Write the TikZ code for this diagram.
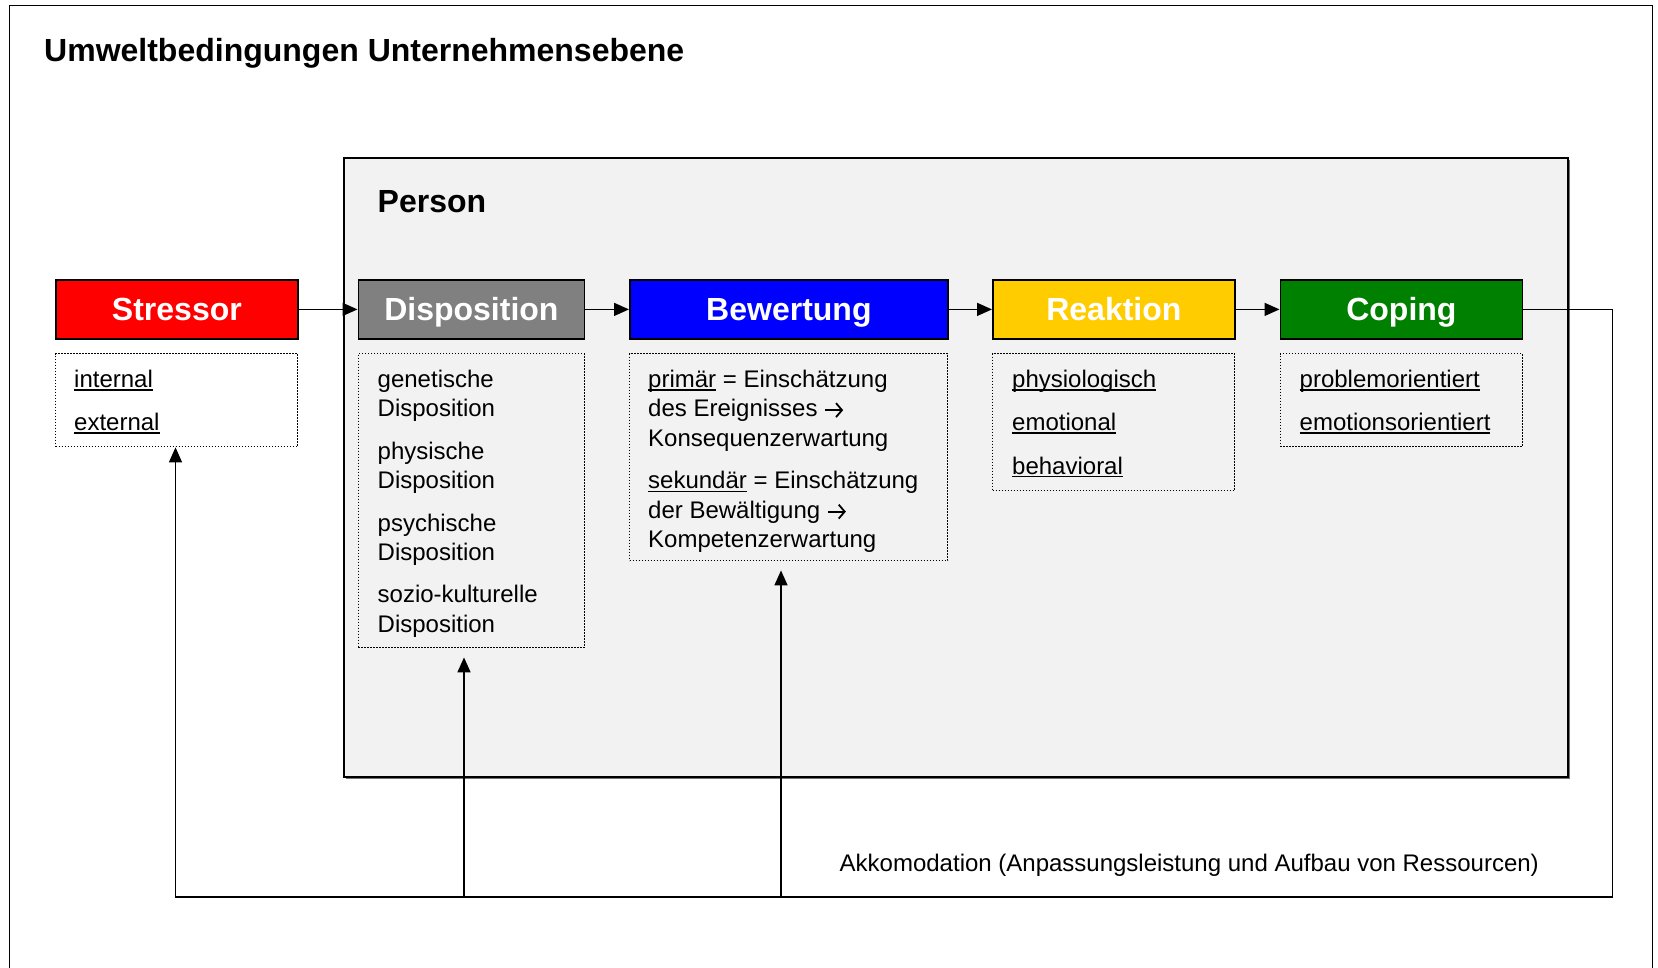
\documentclass[tikz,border=0pt]{standalone}
\usepackage{fontspec}
\setmainfont{Liberation Sans}
\usetikzlibrary{arrows.meta, shadows}

\definecolor{stressred}{HTML}{FF0000}
\definecolor{dispgray}{HTML}{808080}
\definecolor{bewblue}{HTML}{0000FF}
\definecolor{reakyellow}{HTML}{FFCC00}
\definecolor{copgreen}{HTML}{008000}
\definecolor{persongray}{HTML}{F2F2F2}

\newlength{\uwordlen}
\newcommand{\uword}[1]{\settowidth{\uwordlen}{#1}\rlap{\rule[-3.4pt]{\uwordlen}{1.6pt}}#1}
\newcommand{\folgt}{\tikz[baseline=0pt]\draw[line width=1.8pt, -{Straight Barb[length=6pt, width=14pt]}] (0pt,6.7pt) -- (18pt,6.7pt);}

\begin{document}
\begin{tikzpicture}[x=1pt, y=-1pt,
    frame/.style={line width=1.8pt},
    title/.style={font=\fontsize{32}{38}\selectfont\bfseries, inner sep=0pt},
    person/.style={draw, line width=1.6pt, fill=persongray, anchor=north west, inner sep=0pt,
        drop shadow={shadow xshift=2.5pt, shadow yshift=-2.5pt, fill=black!55, opacity=1}},
    head/.style={draw, line width=1.8pt, minimum height=59pt, anchor=north west, inner sep=0pt,
        text height=23pt, text depth=0pt, text=white, font=\fontsize{32}{38}\selectfont\bfseries},
    detail/.style={draw, line width=1.4pt, dash pattern=on 1.4pt off 1.6pt, anchor=north west, inner sep=0pt},
    item/.style={anchor=north west, align=left, inner sep=0pt, font=\fontsize{24}{29.6}\selectfont},
    line/.style={-{Triangle[length=15pt, width=13pt]}, line width=1.5pt}]
\useasboundingbox (0,0) rectangle (1658,968);
\draw[frame] (9.5,968) -- (9.5,5.5) -- (1652.5,5.5) -- (1652.5,968);
\node[title, anchor=base west] (umwelt) at (44,61.5) {Umweltbedingungen Unternehmensebene};
\node[person, minimum width=1224pt, minimum height=619pt] (personbox) at (343,157) {};
\node[title, anchor=base west] (persontitle) at (377.5,213) {Person};
\node[head, fill=stressred, minimum width=242pt] (stressor) at (55,279) {Stressor};
\node[head, fill=dispgray, minimum width=226pt] (disposition) at (357.5,279) {Disposition};
\node[head, fill=bewblue, minimum width=318pt] (bewertung) at (629,279) {Bewertung};
\node[head, fill=reakyellow, minimum width=242pt] (reaktion) at (992,279) {Reaktion};
\node[head, fill=copgreen, minimum width=242pt] (coping) at (1279.5,279) {Coping};
\node[detail, minimum width=242pt, minimum height=93pt] (stressorbox) at (55,353) {};
\node[detail, minimum width=226pt, minimum height=294pt] (dispositionbox) at (357.5,353) {};
\node[detail, minimum width=318pt, minimum height=207pt] (bewertungbox) at (629,353) {};
\node[detail, minimum width=242pt, minimum height=137pt] (reaktionbox) at (992,353) {};
\node[detail, minimum width=242pt, minimum height=93pt] (copingbox) at (1279.5,353) {};
\node[item] (stressortext) at (74,366.3) {\strut\uword{internal}\\[13.8pt]\uword{external}};
\node[item] (dispositiontext) at (377.5,366.3) {\strut genetische\\Disposition\\[12.7pt]physische\\Disposition\\[12.7pt]psychische\\Disposition\\[12.7pt]sozio-kulturelle\\Disposition};
\node[item] (bewertungtext) at (648,366.3) {\strut\uword{primär} = Einschätzung\\des Ereignisses \folgt\\Konsequenzerwartung\\[12.7pt]\uword{sekundär} = Einschätzung\\der Bewältigung \folgt\\Kompetenzerwartung};
\node[item] (reaktiontext) at (1012,366.3) {\strut\uword{physiologisch}\\[13.8pt]\uword{emotional}\\[13.8pt]\uword{behavioral}};
\node[item] (copingtext) at (1299.5,366.3) {\strut\uword{problemorientiert}\\[13.8pt]\uword{emotionsorientiert}};
\node[item, anchor=base west] (akkomodation) at (839.5,871) {Akkomodation (Anpassungsleistung und Aufbau von Ressourcen)};
\coordinate (backright) at (1612.5,897);
\coordinate (backleft) at (175.5,897);
\coordinate (footdisp) at (464,897);
\coordinate (footbew) at (781,897);
\draw[line] (stressor) -- (disposition);
\draw[line] (disposition) -- (bewertung);
\draw[line] (bewertung) -- (reaktion);
\draw[line] (reaktion) -- (coping);
\draw[line] (coping.east) -| (backright) -- (backleft) -- (backleft |- stressorbox.south);
\draw[line, shorten >=9pt] (footdisp) -- (footdisp |- dispositionbox.south);
\draw[line, shorten >=9pt] (footbew) -- (footbew |- bewertungbox.south);
\end{tikzpicture}
\end{document}
